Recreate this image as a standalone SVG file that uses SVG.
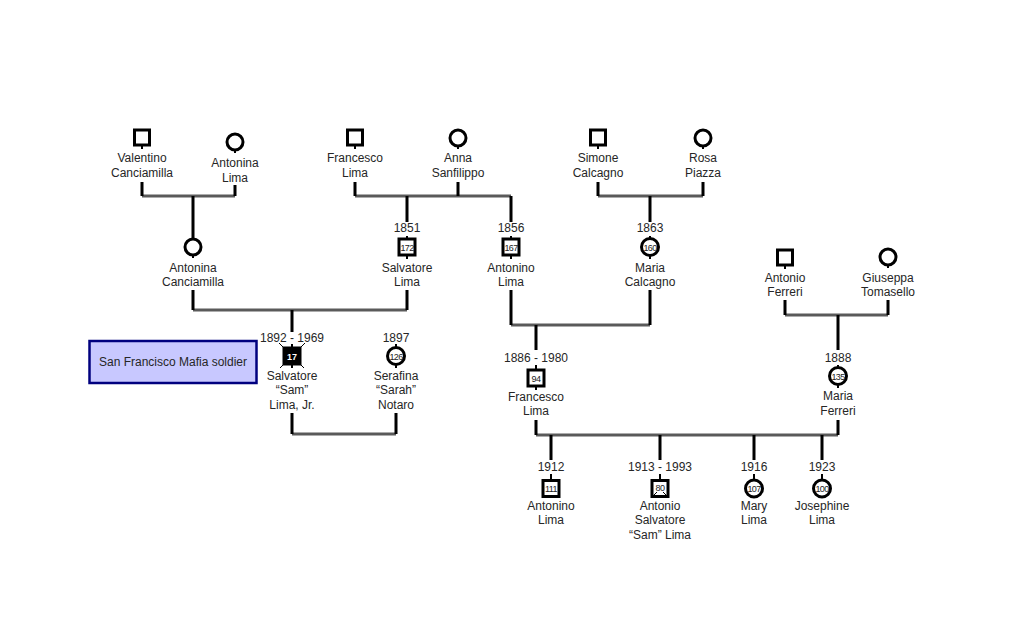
<svg xmlns="http://www.w3.org/2000/svg" width="1023" height="640" viewBox="0 0 1023 640">
<style>
text{font-family:"Liberation Sans",Arial,sans-serif;font-size:12px;fill:#262626;text-anchor:middle}
.num{font-size:9px;fill:#222;letter-spacing:-0.6px}
.wnum{font-size:9px;fill:#fff;font-weight:bold}
.sq{fill:#fff;stroke:#000;stroke-width:3}
.sqf{fill:#000;stroke:#000;stroke-width:3}
.ci{fill:#fff;stroke:#000;stroke-width:3}
.tick{stroke:#000;stroke-width:2}
.dm{stroke:#000;stroke-width:1}
.h{stroke:#5a5a5a;stroke-width:3;fill:none}
.v{stroke:#000;stroke-width:3;fill:none}
.legend{fill:#c8c8ff;stroke:#00007f;stroke-width:2.5}
</style>
<rect width="1023" height="640" fill="#fff"/>
<g id="connectors">
<path class="h" d="M142 196H235M355 196H511M598 196H703M193 310H407M511 325H650M785 315H888M292 434H396M536 435H838"/>
<path class="v" d="M142 182V196M235 185V196M193 196V238M355 182V196M458 182V196M407 196V222M511 196V222M598 182V196M703 182V196M650 196V222M193 290V310M407 290V310M292 310V332M511 290V325M650 290V325M536 325V350M785 300V315M888 300V315M838 315V350M292 413V434M396 413V434M536 420V435M838 420V435M551 435V460M660 435V460M754 435V460M822 435V460"/>
</g>
<g id="valentino"><rect class="sq" x="134.5" y="130" width="15" height="15"/><line class="tick" x1="142" y1="146" x2="142" y2="149"/><text x="142" y="162">Valentino</text><text x="142" y="177">Canciamilla</text></g>
<g id="antonina-lima"><circle class="ci" cx="235" cy="142" r="8"/><line class="tick" x1="235" y1="150" x2="235" y2="153"/><text x="235" y="167">Antonina</text><text x="235" y="182">Lima</text></g>
<g id="francesco-lima-sr"><rect class="sq" x="347.5" y="130" width="15" height="15"/><line class="tick" x1="355" y1="146" x2="355" y2="149"/><text x="355" y="162">Francesco</text><text x="355" y="177">Lima</text></g>
<g id="anna-sanfilippo"><circle class="ci" cx="458" cy="138" r="8"/><line class="tick" x1="458" y1="146" x2="458" y2="149"/><text x="458" y="162">Anna</text><text x="458" y="177">Sanfilippo</text></g>
<g id="simone-calcagno"><rect class="sq" x="590.5" y="130" width="15" height="15"/><line class="tick" x1="598" y1="146" x2="598" y2="149"/><text x="598" y="162">Simone</text><text x="598" y="177">Calcagno</text></g>
<g id="rosa-piazza"><circle class="ci" cx="703" cy="138" r="8"/><line class="tick" x1="703" y1="146" x2="703" y2="149"/><text x="703" y="162">Rosa</text><text x="703" y="177">Piazza</text></g>
<g id="antonina-canciamilla"><circle class="ci" cx="193" cy="247" r="8"/><line class="tick" x1="193" y1="255" x2="193" y2="258"/><text x="193" y="272">Antonina</text><text x="193" y="286">Canciamilla</text></g>
<g id="salvatore-lima"><text x="407" y="232">1851</text><line class="tick" x1="407" y1="236" x2="407" y2="240"/><rect class="sq" x="399" y="239" width="16" height="16"/><text class="num" x="407" y="250.5">172</text><line class="tick" x1="407" y1="256" x2="407" y2="259"/><text x="407" y="272">Salvatore</text><text x="407" y="286">Lima</text></g>
<g id="antonino-lima-sr"><text x="511" y="232">1856</text><line class="tick" x1="511" y1="236" x2="511" y2="240"/><rect class="sq" x="503" y="239" width="16" height="16"/><text class="num" x="511" y="250.5">167</text><line class="tick" x1="511" y1="256" x2="511" y2="259"/><text x="511" y="272">Antonino</text><text x="511" y="286">Lima</text></g>
<g id="maria-calcagno"><text x="650" y="232">1863</text><line class="tick" x1="650" y1="236" x2="650" y2="239"/><circle class="ci" cx="650" cy="247" r="8.5"/><text class="num" x="650" y="250.5">160</text><line class="tick" x1="650" y1="256" x2="650" y2="259"/><text x="650" y="272">Maria</text><text x="650" y="286">Calcagno</text></g>
<g id="antonio-ferreri"><rect class="sq" x="777.5" y="250" width="15" height="15"/><line class="tick" x1="785" y1="266" x2="785" y2="269"/><text x="785" y="282">Antonio</text><text x="785" y="296">Ferreri</text></g>
<g id="giuseppa-tomasello"><circle class="ci" cx="888" cy="257" r="8"/><line class="tick" x1="888" y1="265" x2="888" y2="268"/><text x="888" y="282">Giuseppa</text><text x="888" y="296">Tomasello</text></g>
<g id="legend"><rect class="legend" x="89.5" y="341" width="167" height="42"/><text x="173" y="366">San Francisco Mafia soldier</text></g>
<g id="salvatore-lima-jr"><text x="292" y="342">1892 - 1969</text><path class="dm" d="M284 348L279 343M300 348L305 343M284 364L280 368M300 364L304 368"/><line class="tick" x1="292" y1="344" x2="292" y2="348"/><rect class="sqf" x="284" y="348" width="16" height="16"/><text class="wnum" x="292" y="360">17</text><line class="tick" x1="292" y1="365" x2="292" y2="368"/><text x="292" y="380">Salvatore</text><text x="292" y="394">“Sam”</text><text x="292" y="409">Lima, Jr.</text></g>
<g id="serafina-notaro"><text x="396" y="342">1897</text><line class="tick" x1="396" y1="344" x2="396" y2="347"/><circle class="ci" cx="396" cy="356" r="8.5"/><text class="num" x="396" y="359.5">126</text><line class="tick" x1="396" y1="365" x2="396" y2="368"/><text x="396" y="380">Serafina</text><text x="396" y="394">“Sarah”</text><text x="396" y="409">Notaro</text></g>
<g id="francesco-lima"><text x="536" y="362">1886 - 1980</text><line class="tick" x1="536" y1="365" x2="536" y2="370"/><rect class="sq" x="528" y="370" width="16" height="16"/><text class="num" x="536" y="381.5">94</text><line class="tick" x1="536" y1="387" x2="536" y2="390"/><text x="536" y="401">Francesco</text><text x="536" y="415">Lima</text></g>
<g id="maria-ferreri"><text x="838" y="362">1888</text><line class="tick" x1="838" y1="365" x2="838" y2="368"/><circle class="ci" cx="838" cy="376" r="8.5"/><text class="num" x="838" y="379.5">135</text><line class="tick" x1="838" y1="385" x2="838" y2="388"/><text x="838" y="400">Maria</text><text x="838" y="415">Ferreri</text></g>
<g id="antonino-lima"><text x="551" y="471">1912</text><line class="tick" x1="551" y1="474" x2="551" y2="481"/><rect class="sq" x="543" y="480.5" width="16" height="16"/><text class="num" x="551" y="492">111</text><text x="551" y="510">Antonino</text><text x="551" y="524">Lima</text></g>
<g id="antonio-salvatore-lima"><text x="660" y="471">1913 - 1993</text><line class="tick" x1="660" y1="474" x2="660" y2="481"/><rect class="sq" x="652" y="480.5" width="16" height="16"/><path class="dm" d="M654 495L657 492M666 495L663 492"/><text class="num" x="660" y="491">80</text><text x="660" y="510">Antonio</text><text x="660" y="524">Salvatore</text><text x="660" y="539">“Sam” Lima</text></g>
<g id="mary-lima"><text x="754" y="471">1916</text><line class="tick" x1="754" y1="474" x2="754" y2="480"/><circle class="ci" cx="754" cy="488.5" r="8.5"/><text class="num" x="754" y="492">107</text><text x="754" y="510">Mary</text><text x="754" y="524">Lima</text></g>
<g id="josephine-lima"><text x="822" y="471">1923</text><line class="tick" x1="822" y1="474" x2="822" y2="480"/><circle class="ci" cx="822" cy="488.5" r="8.5"/><text class="num" x="822" y="492">100</text><text x="822" y="510">Josephine</text><text x="822" y="524">Lima</text></g>
</svg>
